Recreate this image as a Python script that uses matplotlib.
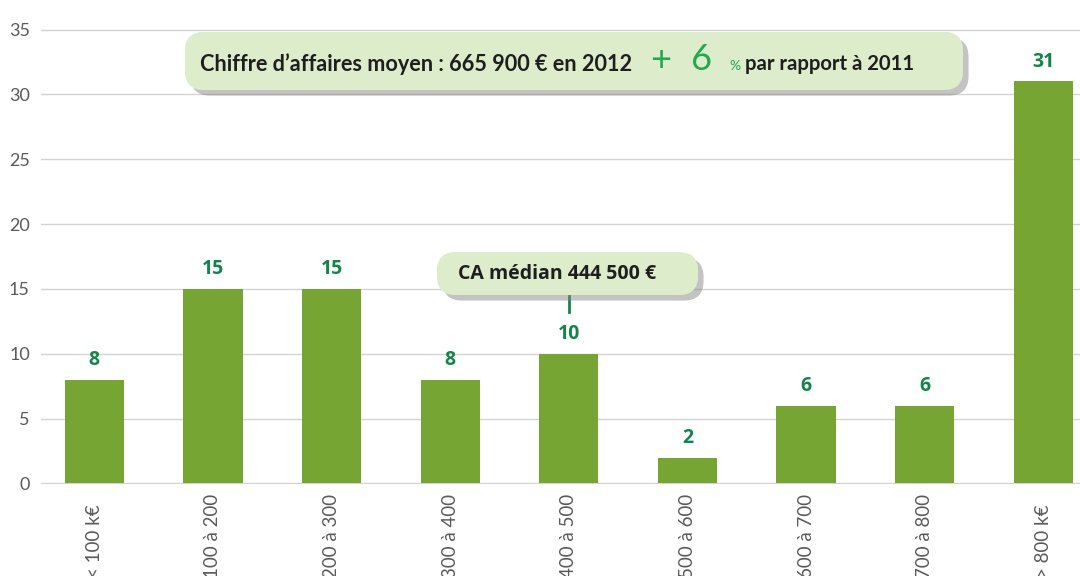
import matplotlib.pyplot as plt
import matplotlib.patheffects as pe
from matplotlib.patches import FancyBboxPatch

# data
categories = ['< 100 k€', '100 à 200', '200 à 300', '300 à 400', '400 à 500',
              '500 à 600', '600 à 700', '700 à 800', '> 800 k€']
values = [8, 15, 15, 8, 10, 2, 6, 6, 31]
median_idx = 4  # median falls in the 400-500 class

W, H = 1080, 576
bar_color = '#76a533'
label_green = '#14854a'
box_face = '#ddeccb'
dark = '#1e1e1e'

fig = plt.figure(figsize=(W / 100, H / 100), dpi=100)
ax = fig.add_axes([41 / W, 92 / H, 1 - 41 / W, 455 / H])

x = list(range(len(categories)))
bars = ax.bar(x, values, width=0.5, color=bar_color, zorder=2)
ax.bar_label(bars, padding=7, color=label_green, fontsize=14,
             fontweight='bold', family=['Open Sans', 'DejaVu Sans'])

ax.set_ylim(-0.04, 35.04)
ax.set_xlim(-0.45, 8.31)
ax.set_yticks(range(0, 36, 5))
ax.grid(axis='y', color='#d3d3d3', lw=1, zorder=0)
for s in ax.spines.values():
    s.set_visible(False)
ax.tick_params(axis='y', length=0, pad=8, labelsize=13, labelcolor='#5a5a5a')
ax.tick_params(axis='x', length=0, pad=68, labelsize=13.5, labelcolor='#5a5a5a')
ax.set_xticks(x)
ax.set_xticklabels(categories, rotation=90, va='bottom')
for lab in ax.get_xticklabels() + ax.get_yticklabels():
    lab.set_family(['Lato', 'DejaVu Sans'])


def px(xp, yp):
    return xp / W, 1 - yp / H


def callout(x0, y0, x1, y1):
    fx0, fy1 = px(x0, y1)
    fx1, fy0 = px(x1, y0)
    box = FancyBboxPatch((fx0, fy1), fx1 - fx0, fy0 - fy1,
                         boxstyle='round,pad=0,rounding_size=0.018',
                         transform=fig.transFigure, facecolor=box_face,
                         edgecolor='none', zorder=5, mutation_aspect=W / H)
    box.set_path_effects([pe.withSimplePatchShadow(offset=(4, -4),
                                                   shadow_rgbFace='#888888',
                                                   alpha=0.5), pe.Normal()])
    fig.patches.append(box)


narrow = ['Lato', 'DejaVu Sans']

# average revenue callout
callout(185, 32, 963, 90)
fig.text(*px(200, 64), "Chiffre d\u2019affaires moyen : 665 900 € en 2012",
         color=dark, fontsize=15.6, fontweight='bold', family=narrow,
         va='center', ha='left', zorder=6)
fig.text(*px(650, 60), "+", color='#22a84f', fontsize=26,
         family=narrow, va='center', ha='left', zorder=6)
fig.text(*px(691, 60), "6", color='#22a84f', fontsize=26,
         family=narrow, va='center', ha='left', zorder=6)
fig.text(*px(729, 66), "%", color='#22a84f', fontsize=10,
         family=narrow, va='center', ha='left', zorder=6)
fig.text(*px(745, 64), "par rapport à 2011", color=dark, fontsize=14.6,
         fontweight='bold', family=narrow, va='center', ha='left', zorder=6)

# median callout
callout(437, 252, 698, 295)
fig.text(*px(458, 274), "CA médian 444 500 €", color=dark, fontsize=14,
         fontweight='bold', family=['Open Sans', 'DejaVu Sans'],
         va='center', ha='left', zorder=6)
ax.plot([median_idx, median_idx], [13.2, 14.6], color='#14854a', lw=2,
        zorder=3)

fig.savefig('out.png', dpi=100)
